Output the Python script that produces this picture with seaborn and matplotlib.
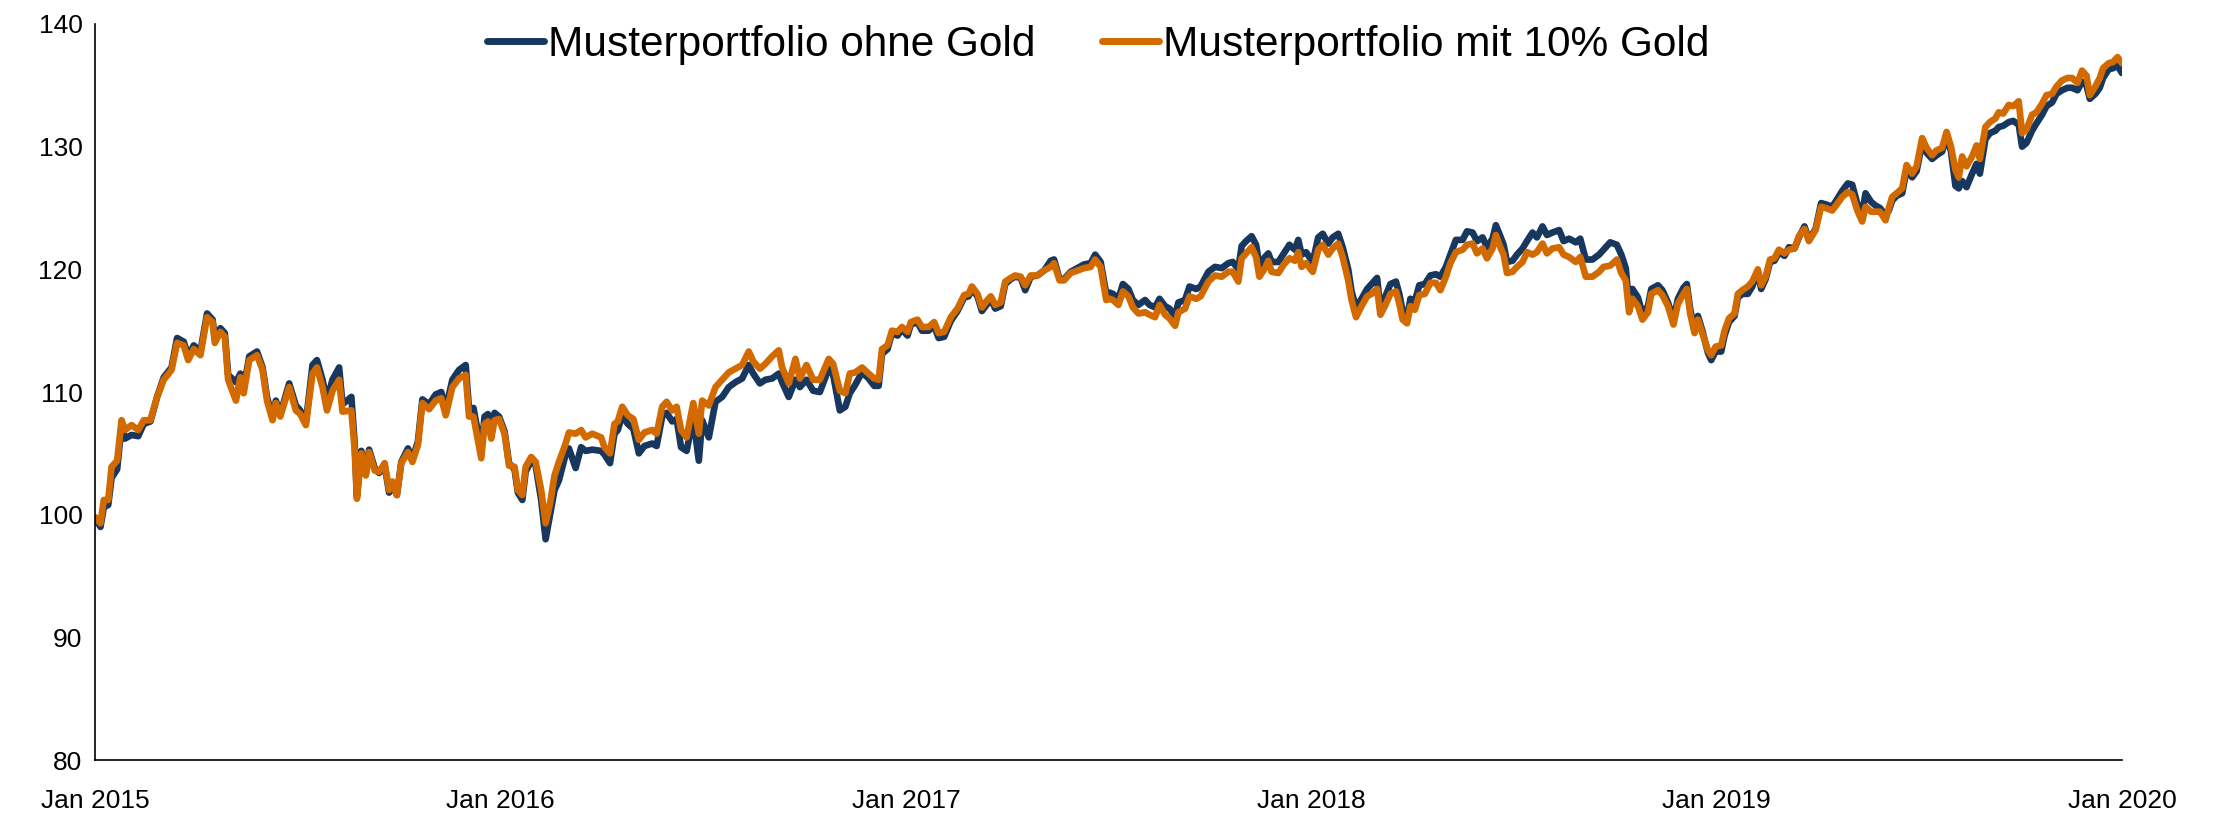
import pandas as pd
import numpy as np
import matplotlib
matplotlib.use("Agg")
import matplotlib.pyplot as plt
import matplotlib.dates as mdates
import seaborn as sns

# Tage seit 01.01.2015
tage = [0, 5, 8, 12, 15, 20, 24, 27, 33, 39, 44, 50, 56, 62, 69, 74, 80, 84, 89, 95,
        101, 106, 108, 113, 117, 120, 127, 131, 134, 139, 146, 151, 155, 160, 163, 167, 175, 181, 185, 190,
        196, 200, 205, 209, 214, 220, 223,
        231, 234, 236, 240, 244, 247, 252, 256, 261, 265, 268, 272, 276, 282, 286, 291, 295, 301, 307, 312,
        316, 322, 328, 334, 337, 341, 348, 351, 354, 357, 360, 364, 369, 373, 378, 381, 385, 388, 393, 397,
        402, 406, 410, 414, 418, 424, 427, 433, 438, 442, 448, 456,
        459, 464, 468, 471, 475, 480, 485, 490, 495, 502, 506, 511, 515, 520, 524, 528, 533, 539, 544, 547,
        553, 559, 565, 571, 577, 583, 589, 593, 599, 604, 610, 616, 619, 625, 631, 635, 641, 647, 653, 661,
        665, 671, 676, 680, 685,
        691, 697, 702, 706, 709, 714, 718, 723, 727, 732, 735, 741, 745, 751, 756, 760, 765, 771, 777, 783,
        787, 790, 795, 799, 804, 807, 811, 816, 820, 825, 829, 834, 838, 843, 849, 855, 861, 864, 869, 873,
        879, 885, 891, 897, 901, 906, 911, 914,
        917, 922, 926, 931, 935, 940, 946, 950, 955, 959, 964, 968, 973, 976, 982, 986, 992, 996, 1003, 1009,
        1015, 1021, 1025, 1030, 1033, 1037, 1042, 1046, 1049, 1054, 1057, 1060, 1066, 1071, 1076, 1081, 1084, 1087, 1091, 1097,
        1102, 1106, 1111, 1115, 1120, 1124, 1129, 1132, 1136, 1141,
        1146, 1150, 1155, 1158, 1162, 1167, 1172, 1175, 1178, 1182, 1185, 1189, 1193, 1198, 1203, 1208, 1212, 1217, 1221, 1226,
        1232, 1236, 1241, 1245, 1250, 1254, 1259, 1262, 1266, 1269, 1272, 1277, 1281, 1286, 1290, 1295, 1299, 1304, 1308, 1313,
        1319, 1323, 1328, 1334, 1338, 1343, 1349, 1355, 1359, 1365, 1371,
        1375, 1379, 1382, 1385, 1390, 1394, 1399, 1402, 1408, 1412, 1417, 1422, 1426, 1431, 1434, 1437, 1441, 1444, 1448, 1453,
        1456, 1460, 1465, 1468, 1472, 1477, 1480, 1484, 1489, 1493, 1498, 1501, 1505, 1509, 1513, 1517, 1522, 1526, 1531, 1535,
        1540, 1544, 1550, 1555, 1559, 1565, 1570, 1574, 1579, 1583, 1588, 1592, 1595, 1600,
        1604, 1608, 1613, 1616, 1619, 1623, 1628, 1632, 1637, 1641, 1646, 1650, 1655, 1659, 1664, 1668, 1672, 1676, 1679, 1682,
        1686, 1691, 1695, 1698, 1703, 1707, 1712, 1715, 1719, 1724, 1728, 1733, 1736, 1740, 1745, 1749, 1754, 1758, 1763, 1767,
        1772, 1777, 1781, 1786, 1790, 1794, 1797, 1802, 1806, 1809, 1814, 1818, 1822, 1826]

ohne_gold = [99.8, 99.0, 100.6, 100.8, 103.0, 103.7, 107.3, 106.2, 106.5, 106.4, 107.4, 107.6, 109.6, 111.2, 112.0, 114.4, 114.1, 112.9, 113.8, 113.3,
             116.4, 115.9, 114.3, 115.2, 114.8, 111.4, 110.8, 111.5, 110.3, 112.9, 113.3, 112.0, 109.6, 107.9, 109.3, 108.2, 110.7, 108.9, 108.5, 107.5,
             112.2, 112.6, 111.0, 109.3, 111.0, 112.0, 109.0,
             109.6, 105.8, 101.5, 105.2, 103.3, 105.3, 103.8, 103.4, 104.0, 101.8, 102.5, 101.6, 104.3, 105.4, 104.5, 106.0, 109.4, 109.0, 109.8, 110.0,
             108.6, 111.0, 111.8, 112.2, 108.6, 108.7, 105.2, 108.0, 108.2, 106.8, 108.3, 108.0, 106.8, 104.2, 103.7, 101.8, 101.2, 103.5, 104.4, 104.0,
             101.2, 98.0, 100.0, 102.0, 102.8, 104.9, 105.4, 103.8, 105.5, 105.2, 105.3, 105.2,
             104.9, 104.2, 106.6, 106.9, 108.1, 107.4, 107.0, 105.0, 105.6, 105.8, 105.6, 108.0, 108.3, 107.6, 107.8, 105.5, 105.2, 107.9, 104.4, 107.7,
             106.3, 109.2, 109.6, 110.4, 110.8, 111.1, 112.2, 111.5, 110.7, 111.0, 111.1, 111.5, 110.8, 109.6, 111.0, 110.4, 111.0, 110.1, 110.0, 111.9,
             111.4, 108.5, 108.8, 109.9, 110.6,
             111.6, 111.1, 110.5, 110.5, 113.1, 113.5, 114.8, 114.6, 115.1, 114.6, 115.5, 115.7, 115.0, 115.0, 115.4, 114.4, 114.5, 115.8, 116.6, 117.7,
             117.8, 118.4, 117.8, 116.6, 117.2, 117.6, 116.8, 117.0, 118.8, 119.2, 119.4, 119.3, 118.3, 119.4, 119.5, 119.9, 120.7, 120.8, 119.2, 119.2,
             119.8, 120.1, 120.4, 120.5, 121.2, 120.6, 118.0, 118.1,
             118.0, 117.6, 118.8, 118.4, 117.5, 117.1, 117.5, 117.1, 116.9, 117.6, 117.0, 116.8, 116.2, 117.3, 117.5, 118.6, 118.4, 118.6, 119.8, 120.2,
             120.1, 120.5, 120.6, 120.0, 121.9, 122.3, 122.7, 122.0, 120.3, 121.0, 121.3, 120.6, 120.6, 121.3, 122.0, 121.6, 122.4, 121.2, 121.4, 120.6,
             122.6, 122.9, 122.1, 122.6, 122.9, 121.8, 120.0, 118.2, 116.9, 117.6,
             118.4, 118.8, 119.3, 116.7, 117.7, 118.8, 119.0, 118.0, 116.6, 116.0, 117.6, 117.4, 118.7, 118.8, 119.5, 119.6, 119.4, 120.2, 121.2, 122.4,
             122.4, 123.1, 123.0, 122.3, 122.6, 121.8, 122.5, 123.6, 122.7, 122.0, 120.6, 120.7, 121.2, 121.7, 122.3, 123.0, 122.6, 123.5, 122.8, 123.0,
             123.2, 122.3, 122.5, 122.2, 122.5, 120.8, 120.8, 121.2, 121.6, 122.2, 122.0,
             121.2, 120.1, 117.2, 118.4, 117.7, 116.4, 117.0, 118.4, 118.7, 118.3, 117.3, 115.9, 117.6, 118.5, 118.8, 116.8, 115.0, 116.2, 115.0, 113.2,
             112.6, 113.3, 113.3, 114.6, 115.7, 116.2, 117.7, 118.0, 118.0, 118.6, 119.8, 118.4, 119.2, 120.6, 120.7, 121.4, 121.1, 121.8, 121.7, 122.6,
             123.5, 122.4, 123.3, 125.4, 125.3, 125.1, 125.8, 126.4, 127.0, 126.9, 125.2, 124.6, 126.2, 125.5,
             125.2, 125.0, 124.4, 124.8, 125.6, 126.0, 126.2, 128.1, 127.5, 128.0, 130.3, 129.5, 129.0, 129.3, 129.6, 130.8, 129.6, 126.8, 126.6, 127.2,
             126.7, 127.8, 128.6, 127.8, 130.6, 131.1, 131.3, 131.6, 131.7, 132.0, 132.1, 131.8, 130.0, 130.3, 131.3, 131.9, 132.6, 133.3, 133.6, 134.3,
             134.6, 134.8, 134.8, 134.6, 135.3, 135.0, 133.9, 134.3, 134.8, 135.6, 136.3, 136.4, 136.6, 136.0]

mit_gold = [99.8, 99.3, 101.2, 101.2, 103.9, 104.4, 107.7, 106.9, 107.3, 106.9, 107.7, 107.7, 109.6, 111.0, 111.8, 114.0, 113.8, 112.6, 113.5, 113.0,
            116.1, 115.7, 114.0, 114.9, 114.5, 111.0, 109.3, 111.2, 109.9, 112.6, 113.0, 111.8, 109.3, 107.7, 109.1, 108.0, 110.4, 108.5, 108.2, 107.3,
            111.5, 112.0, 110.4, 108.5, 110.1, 111.0, 108.4,
            108.5, 105.3, 101.3, 105.0, 103.2, 105.1, 103.6, 103.5, 104.2, 102.0, 102.7, 101.6, 104.2, 105.1, 104.3, 105.7, 109.1, 108.6, 109.3, 109.5,
            108.1, 110.4, 111.1, 111.4, 108.0, 108.0, 104.6, 107.4, 107.6, 106.2, 107.7, 107.8, 106.6, 104.0, 103.9, 102.0, 101.6, 103.9, 104.7, 104.3,
            102.0, 99.3, 100.9, 103.2, 104.3, 105.8, 106.7, 106.6, 106.9, 106.3, 106.6, 106.3,
            105.5, 105.0, 107.4, 107.6, 108.8, 108.1, 107.8, 106.1, 106.7, 106.9, 106.6, 108.8, 109.2, 108.5, 108.8, 106.9, 106.3, 109.1, 106.6, 109.3,
            108.9, 110.4, 111.0, 111.6, 111.9, 112.2, 113.3, 112.5, 111.9, 112.3, 112.9, 113.4, 112.0, 110.7, 112.7, 111.1, 112.2, 111.0, 111.0, 112.7,
            112.3, 110.1, 109.9, 111.5, 111.6,
            112.0, 111.5, 111.1, 111.0, 113.5, 113.8, 115.0, 114.9, 115.3, 114.9, 115.7, 115.9, 115.3, 115.3, 115.7, 114.8, 114.9, 116.1, 116.8, 117.9,
            118.0, 118.6, 118.0, 116.9, 117.5, 117.8, 117.1, 117.3, 119.0, 119.3, 119.5, 119.4, 118.7, 119.5, 119.5, 119.9, 120.2, 120.5, 119.1, 119.1,
            119.7, 119.9, 120.1, 120.2, 120.8, 120.2, 117.5, 117.6,
            117.5, 117.1, 118.2, 117.8, 116.9, 116.4, 116.5, 116.3, 116.1, 117.1, 116.3, 116.0, 115.4, 116.5, 116.8, 117.8, 117.6, 117.8, 119.0, 119.5,
            119.4, 119.8, 119.8, 119.0, 120.9, 121.3, 121.8, 121.0, 119.4, 120.1, 120.7, 119.8, 119.7, 120.4, 120.9, 120.7, 121.4, 120.2, 120.5, 119.8,
            121.6, 122.0, 121.2, 121.7, 122.1, 121.0, 119.1, 117.5, 116.1, 117.0,
            117.8, 118.0, 118.4, 116.3, 117.0, 118.0, 118.2, 117.2, 115.9, 115.6, 117.0, 116.7, 117.9, 118.0, 118.9, 118.9, 118.3, 119.4, 120.5, 121.4,
            121.6, 122.0, 122.1, 121.3, 121.7, 120.9, 121.7, 122.8, 121.8, 121.2, 119.7, 119.8, 120.2, 120.6, 121.4, 121.2, 121.4, 122.1, 121.3, 121.7,
            121.8, 121.2, 121.0, 120.6, 121.0, 119.4, 119.4, 119.8, 120.2, 120.3, 120.8,
            119.7, 119.1, 116.5, 117.6, 117.0, 115.9, 116.5, 118.0, 118.3, 117.9, 117.0, 115.5, 117.2, 118.0, 118.4, 116.4, 114.8, 115.9, 114.8, 113.4,
            113.0, 113.7, 113.8, 115.0, 116.0, 116.4, 118.0, 118.3, 118.6, 119.0, 120.0, 118.7, 119.4, 120.8, 120.9, 121.6, 121.3, 121.6, 121.7, 122.7,
            123.3, 122.3, 123.2, 125.1, 125.0, 124.8, 125.4, 125.9, 126.3, 126.1, 124.7, 123.9, 125.1, 124.7,
            124.7, 124.7, 124.0, 125.0, 125.9, 126.2, 126.6, 128.5, 127.8, 128.4, 130.7, 129.9, 129.3, 129.7, 129.9, 131.2, 130.0, 128.1, 127.5, 129.2,
            128.4, 129.2, 130.1, 129.0, 131.6, 132.0, 132.3, 132.8, 132.7, 133.4, 133.3, 133.7, 131.1, 131.4, 132.6, 132.8, 133.5, 134.2, 134.3, 134.9,
            135.4, 135.6, 135.6, 135.2, 136.2, 135.8, 134.2, 134.9, 135.6, 136.4, 136.8, 136.9, 137.3, 136.8]

serien = ["Musterportfolio ohne Gold", "Musterportfolio mit 10% Gold"]
farben = ["#17375E", "#D26A00"]

datum = pd.Timestamp("2015-01-01") + pd.to_timedelta(tage, unit="D")
df = pd.concat([
    pd.DataFrame({"Datum": datum, "Wert": ohne_gold, "Serie": serien[0]}),
    pd.DataFrame({"Datum": datum, "Wert": mit_gold, "Serie": serien[1]}),
])

sns.set_style("white")
plt.rcParams["font.family"] = ["Liberation Sans", "DejaVu Sans"]

fig = plt.figure(figsize=(22.18, 8.16), dpi=100)
ax = fig.add_axes([0.0428, 0.0686, 0.9139, 0.9020])

sns.lineplot(data=df, x="Datum", y="Wert", hue="Serie", hue_order=serien,
             palette=farben, linewidth=4.8, ax=ax, legend=False)

ax.set_xlim(pd.Timestamp("2015-01-01"), pd.Timestamp("2020-01-01"))
ax.set_ylim(80, 140)
ax.set_yticks(np.arange(80, 141, 10))
ax.xaxis.set_major_locator(mdates.YearLocator())
ax.xaxis.set_major_formatter(mdates.DateFormatter("%b %Y"))
ax.set_xlabel("")
ax.set_ylabel("")

for s in ["top", "right"]:
    ax.spines[s].set_visible(False)
for s in ["left", "bottom"]:
    ax.spines[s].set_color("black")
    ax.spines[s].set_linewidth(1.2)

ax.tick_params(axis="both", length=0, labelsize=19, colors="black")
ax.tick_params(axis="y", pad=9)
ax.tick_params(axis="x", pad=21)

handles = [plt.Line2D([], [], color=c, linewidth=5) for c in farben]
leg = ax.legend(handles, serien, loc="upper center", bbox_to_anchor=(0.495, 1.05), ncol=2,
                frameon=False, fontsize=30.5, handlelength=1.35, handletextpad=0.1,
                columnspacing=1.55)
for t in leg.get_texts():
    t.set_color("black")

fig.savefig("out.png", dpi=100)
